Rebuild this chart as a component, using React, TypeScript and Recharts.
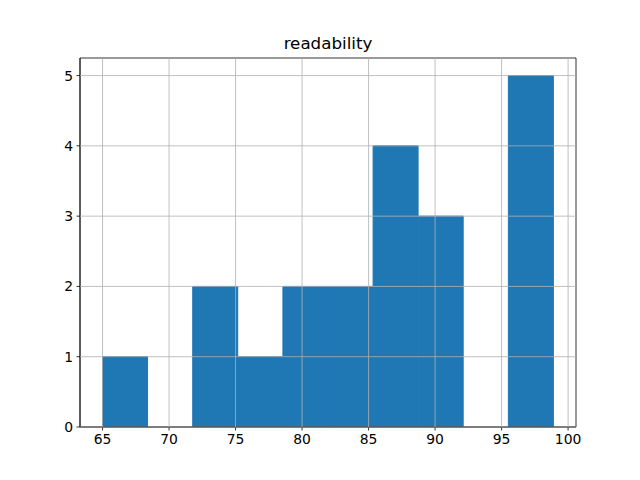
import React from 'react';
import { ComposedChart, Bar, XAxis, YAxis, ReferenceLine, ReferenceArea } from 'recharts';

const binEdges = [65, 68.39, 71.78, 75.17, 78.56, 81.95, 85.34, 88.73, 92.12, 95.51, 98.9];
const counts = [1, 0, 2, 1, 2, 2, 4, 3, 0, 5];
const xTicks = [65, 70, 75, 80, 85, 90, 95, 100];
const yTicks = [0, 1, 2, 3, 4, 5];
const title = 'readability';

const data = counts.map((c, i) => ({ mid: (binEdges[i] + binEdges[i + 1]) / 2, count: c }));

const W = 640;
const H = 480;
const LEFT = 80;
const RIGHT = 576;
const TOP = 58;
const BOTTOM = 427;

const range = binEdges[binEdges.length - 1] - binEdges[0];
const xMin = binEdges[0] - range * 0.05;
const xMax = binEdges[binEdges.length - 1] + range * 0.05;
const yMax = Math.max(...counts) * 1.05;

const font = { fontFamily: 'DejaVu Sans', fontSize: 13.9, fill: '#000' };
const GRID = '#b0b0b0';
const margin = { top: TOP, right: W - RIGHT, bottom: 0, left: 0 };

export default function App() {
  return (
    <div style={{ position: 'absolute', left: 0, top: 0, width: W, height: H, background: '#fff' }}>
      <ComposedChart width={W} height={H} data={data} margin={margin} barCategoryGap={0} barGap={0}>
        <XAxis
          dataKey="mid"
          type="number"
          domain={[xMin, xMax]}
          ticks={xTicks}
          allowDataOverflow
          height={H - BOTTOM}
          tickSize={3.5}
          tickMargin={3.5}
          tick={font}
          axisLine={{ stroke: '#000', strokeWidth: 0.8 }}
          tickLine={{ stroke: '#000', strokeWidth: 0.8 }}
        />
        <YAxis
          type="number"
          domain={[0, yMax]}
          ticks={yTicks}
          allowDataOverflow
          width={LEFT}
          tickSize={3.5}
          tickMargin={3.5}
          tick={font}
          axisLine={{ stroke: '#000', strokeWidth: 0.8 }}
          tickLine={{ stroke: '#000', strokeWidth: 0.8 }}
        />
        <Bar dataKey="count" fill="#1f77b4" stroke="#1f77b4" strokeWidth={1} isAnimationActive={false} />
      </ComposedChart>
      <div style={{ position: 'absolute', left: 0, top: 0, pointerEvents: 'none' }}>
        <ComposedChart width={W} height={H} data={data} margin={margin} barCategoryGap={0} barGap={0}>
          <XAxis
            dataKey="mid"
            type="number"
            domain={[xMin, xMax]}
            ticks={xTicks}
            allowDataOverflow
            height={H - BOTTOM}
            tick={false}
            tickLine={false}
            axisLine={false}
          />
          <YAxis
            type="number"
            domain={[0, yMax]}
            ticks={yTicks}
            allowDataOverflow
            width={LEFT}
            tick={false}
            tickLine={false}
            axisLine={false}
          />
          {xTicks.map((t) => (
            <ReferenceLine key={'x' + t} x={t} stroke={GRID} strokeWidth={0.8} strokeOpacity={1} />
          ))}
          {yTicks.map((t) => (
            <ReferenceLine key={'y' + t} y={t} stroke={GRID} strokeWidth={0.8} strokeOpacity={1} />
          ))}
          <ReferenceArea
            x1={xMin}
            x2={xMax}
            y1={0}
            y2={yMax}
            fill="none"
            fillOpacity={0}
            stroke="#000"
            strokeWidth={0.8}
            strokeOpacity={1}
            ifOverflow="visible"
          />
        </ComposedChart>
      </div>
      <svg width={W} height={H} style={{ position: 'absolute', left: 0, top: 0, pointerEvents: 'none' }}>
        <text
          x={(LEFT + RIGHT) / 2}
          y={49.3}
          textAnchor="middle"
          fontFamily="DejaVu Sans"
          fontSize={16.7}
          fill="#000"
        >
          {title}
        </text>
      </svg>
    </div>
  );
}
